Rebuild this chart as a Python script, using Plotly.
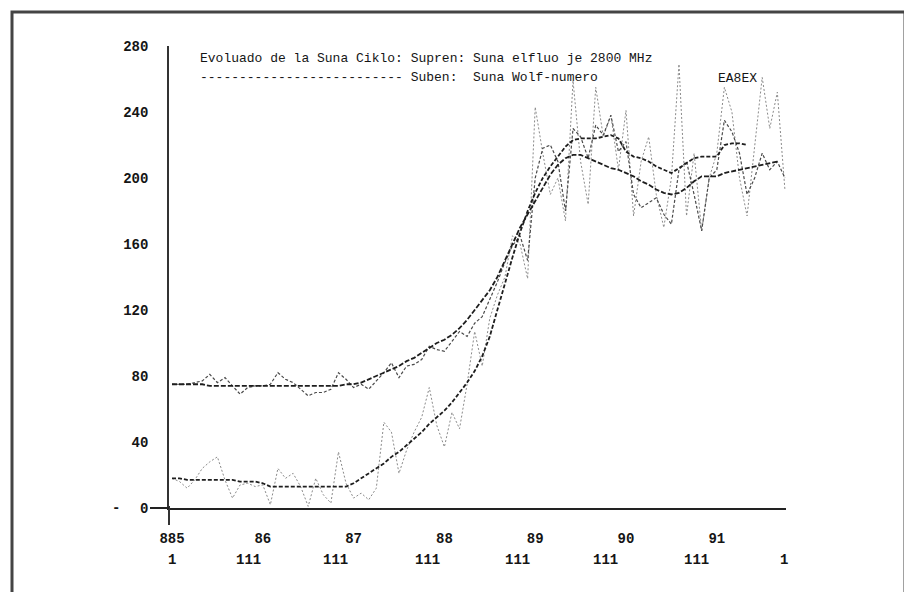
import plotly.graph_objects as go

# ---------------- data ----------------
start_year = 1985
n_months = 82
months = [start_year + i / 12 for i in range(n_months)]

# Monthly 2800 MHz solar flux
flux_monthly = [75, 75, 75, 76, 77, 81, 76, 79, 74, 69, 73, 74, 74, 75, 82, 78, 76, 72, 68, 70,
                70, 72, 82, 78, 73, 75, 72, 77, 82, 88, 79, 86, 87, 90, 98, 96, 95, 101, 107, 104,
                112, 116, 126, 137, 149, 159, 165, 150, 200, 218, 220, 210, 180, 230, 225, 212, 232, 226, 238, 216,
                222, 190, 182, 185, 188, 178, 172, 205, 210, 190, 168, 200, 205, 235, 228, 215, 190, 200, 215, 205,
                210, 200]

# Monthly Wolf number
wolf_monthly = [18, 16, 12, 17, 24, 28, 31, 17, 6, 14, 15, 13, 14, 2, 24, 18, 21, 13, 1, 18,
                8, 3, 34, 15, 6, 9, 5, 12, 52, 46, 21, 35, 46, 55, 73, 50, 37, 58, 48, 75,
                107, 86, 115, 129, 140, 165, 160, 139, 243, 215, 190, 200, 174, 259, 210, 184, 255, 225, 238, 205,
                241, 177, 210, 225, 190, 170, 200, 269, 177, 215, 168, 200, 215, 255, 240, 200, 177, 220, 261, 230,
                252, 193]

# Smoothed flux
flux_smoothed = [75, 75, 75, 75, 75, 74, 74, 74, 74, 74, 74, 74, 74, 74, 74, 74, 74, 74, 74, 74,
                 74, 74, 74, 75, 75, 76, 78, 80, 82, 84, 86, 89, 91, 94, 97, 100, 102, 105, 109, 114,
                 120, 126, 132, 140, 150, 160, 170, 178, 186, 194, 202, 208, 212, 214, 214, 212, 210, 208, 206, 205,
                 203, 201, 198, 196, 193, 191, 190, 191, 194, 198, 201, 201, 201, 203, 204, 205, 206, 207, 208, 209,
                 210]

# Smoothed Wolf number
wolf_smoothed = [18, 18, 17, 17, 17, 17, 17, 17, 17, 16, 16, 16, 15, 13, 13, 13, 13, 13, 13, 13,
                 13, 13, 13, 13, 15, 18, 21, 24, 27, 31, 34, 38, 42, 46, 51, 55, 59, 64, 70, 76,
                 83, 92, 104, 120, 137, 152, 167, 180, 191, 200, 207, 213, 219, 223, 224, 224, 224, 225, 226, 224,
                 216, 213, 212, 210, 207, 205, 203, 206, 209, 212, 213, 213, 213, 220, 221, 221, 220]

year_ticks = [1985, 1986, 1987, 1988, 1989, 1990, 1991]
year_labels = ["885", "86", "87", "88", "89", "90", "91"]
y_ticks = [0, 40, 80, 120, 160, 200, 240, 280]
y_labels = ["0", "40", "80", "120", "160", "200", "240", "280"]
mark_pos = [1985.0, 1985.84, 1986.80, 1987.81, 1988.81, 1989.77, 1990.78, 1991.74]
mark_text = ["1", "111", "111", "111", "111", "111", "111", "1"]

title_1 = "Evoluado de la Suna Ciklo: Supren: Suna elfluo je 2800 MHz"
title_2 = "-------------------------- Suben:  Suna Wolf-numero"
sign = "EA8EX"

# ---------------- figure ----------------
FONT = "Liberation Mono, DejaVu Sans Mono, monospace"
INK = "#151515"
OFF = 8  # the page body has an 8 px margin: figure pixel = window pixel - OFF
W, H = 912, 592
PL, PR, PT, PB = 169, 786, 46, 508  # plot area in window pixels
L, R, T, B = PL - OFF, W - (PR - OFF), PT - OFF, H - (PB - OFF)
pw, ph = W - L - R, H - T - B


def px(xw):
    return (xw - PL) / pw


def py(yw):
    return (PB - yw) / ph


tick_font = dict(family=FONT, size=14, color=INK, weight="bold")

fig = go.Figure()

fig.add_trace(go.Scatter(x=months[:len(wolf_monthly)], y=wolf_monthly, mode="lines",
                         line=dict(color="#8a8a8a", width=1, dash="2px,2px"),
                         name="Wolf-numero", showlegend=False))
fig.add_trace(go.Scatter(x=months[:len(flux_monthly)], y=flux_monthly, mode="lines",
                         line=dict(color="#4a4a4a", width=1.2, dash="3px,2px"),
                         name="elfluo", showlegend=False))
fig.add_trace(go.Scatter(x=months[:len(flux_smoothed)], y=flux_smoothed, mode="lines",
                         line=dict(color="#1e1e1e", width=1.8, dash="5px,2px"),
                         name="elfluo glatigita", showlegend=False))
fig.add_trace(go.Scatter(x=months[:len(wolf_smoothed)], y=wolf_smoothed, mode="lines",
                         line=dict(color="#1e1e1e", width=1.8, dash="4px,2px"),
                         name="Wolf glatigita", showlegend=False))

x_lo = start_year + (PL - 172) / 90.8
x_hi = start_year + (PR - 172) / 90.8

fig.update_layout(
    width=W, height=H,
    margin=dict(l=L, r=R, t=T, b=B, autoexpand=False),
    paper_bgcolor="white", plot_bgcolor="white",
    font=dict(family=FONT, size=14, color=INK),
    xaxis=dict(range=[x_lo, x_hi], tickvals=year_ticks, ticktext=year_labels,
               showgrid=False, zeroline=False, showline=True, linecolor="#222", linewidth=2.2,
               ticks="", automargin=False,
               ticklabelstandoff=16, tickfont=tick_font),
    yaxis=dict(range=[0, ph / 1.65], tickvals=y_ticks, ticktext=y_labels,
               showgrid=False, zeroline=False, showline=True, linecolor="#333", linewidth=1.6,
               ticks="", automargin=False,
               ticklabelstandoff=16, tickfont=tick_font),
    shapes=[
        # outer frame
        dict(type="rect", xref="paper", yref="paper", x0=px(12), x1=px(905), y0=py(630), y1=py(12),
             line=dict(color="#444", width=3), layer="above"),
        # y axis extension below the x axis
        dict(type="rect", xref="paper", yref="paper", x0=px(168), x1=px(170), y0=py(525), y1=py(506),
             line=dict(width=0), fillcolor="#333", layer="above"),
        # x axis extension left of the y axis
        dict(type="rect", xref="paper", yref="paper", x0=px(150), x1=px(169), y0=py(509), y1=py(507),
             line=dict(width=0), fillcolor="#222", layer="above"),
    ],
)

ann = []
for xv, t in zip(mark_pos, mark_text):
    ann.append(dict(x=xv, xref="x", y=0, yref="paper", yshift=-52, text=t, showarrow=False,
                    xanchor="center", yanchor="middle", font=tick_font))
ann.append(dict(x=px(116), xref="paper", y=0, yref="y", text="-", showarrow=False,
                xanchor="center", yanchor="middle", font=tick_font))
ann.append(dict(x=px(198), xref="paper", y=py(58), yref="paper", text=title_1, showarrow=False,
                xanchor="left", yanchor="middle", font=dict(family=FONT, size=13, color=INK)))
ann.append(dict(x=px(198), xref="paper", y=py(77), yref="paper", text=title_2, showarrow=False,
                xanchor="left", yanchor="middle", font=dict(family=FONT, size=13, color=INK)))
ann.append(dict(x=px(716), xref="paper", y=py(78), yref="paper", text=sign, showarrow=False,
                xanchor="left", yanchor="middle", font=dict(family=FONT, size=13, color=INK)))
fig.update_layout(annotations=ann)

fig.write_html("out.html")
